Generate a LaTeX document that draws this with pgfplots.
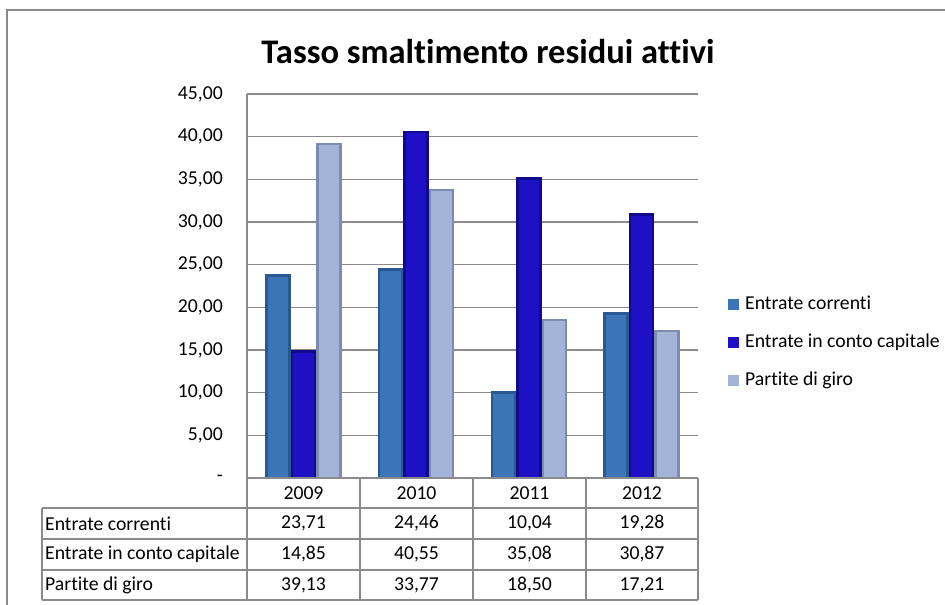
\documentclass[border=0pt]{standalone}
\usepackage{fontspec}
\setmainfont{Carlito}[Ligatures={NoCommon}]
\usepackage{pgfplots}
\pgfplotsset{compat=1.18}
\definecolor{aE}{HTML}{2A5890}
\definecolor{aM}{HTML}{3C75B7}
\definecolor{bE}{HTML}{120A8C}
\definecolor{bM}{HTML}{1E10C4}
\definecolor{cE}{HTML}{7C8CB0}
\definecolor{cM}{HTML}{A4B4D8}
\definecolor{gridc}{HTML}{8A8A8A}
\begin{document}
\begin{tikzpicture}[x=1pt,y=1pt]
\begin{axis}[
  scale only axis, width=451pt, height=384pt,
  xmin=-0.5, xmax=3.5, ymin=0, ymax=45,
  axis lines*=left,
  axis line style={gridc, line width=1.2pt, -},
  ymajorgrids, grid style={gridc, line width=1.2pt},
  xtick=\empty,
  ytick={0,5,...,45},
  yticklabels={-,{5,00},{10,00},{15,00},{20,00},{25,00},{30,00},{35,00},{40,00},{45,00}},
  major tick length=0pt,
  tick label style={font=\fontsize{19.7}{22}\selectfont},
  yticklabel style={inner sep=0pt, xshift=-24pt},
  ybar=0pt, bar width=23pt,
  legend image code/.code={\fill[#1, draw=none] (0pt,-5.5pt) rectangle (11pt,5.5pt);},
  legend style={draw=none, fill=none, at={(1,0.352)}, anchor=west, xshift=30pt,
    inner sep=0pt, row sep=21pt, column sep=6pt,
    font=\fontsize{19.7}{22}\selectfont,
    nodes={inner sep=0pt, text height=13pt, text depth=4pt, anchor=west}},
  legend cell align=left,
]
\addplot[draw=aE, line width=2.5pt, fill=aM, bar shift=-25.5pt] coordinates {(0,23.71) (1,24.46) (2,10.04) (3,19.28)};
\addlegendentry{Entrate correnti}
\addplot[draw=bE, line width=2.5pt, fill=bM, bar shift=0pt] coordinates {(0,14.85) (1,40.55) (2,35.08) (3,30.87)};
\addlegendentry{Entrate in conto capitale}
\addplot[draw=cE, line width=2.5pt, fill=cM, bar shift=25.5pt] coordinates {(0,39.13) (1,33.77) (2,18.50) (3,17.21)};
\addlegendentry{Partite di giro}
\coordinate (O) at (rel axis cs:0,0);
\end{axis}
\begin{scope}[shift={(O)}, xshift=-247pt, yshift=-127pt]
\draw[gridc, line width=1.2pt] (7,0) -- (7,595) -- (945,595);
\node[font=\bfseries\fontsize{34.5}{40}\selectfont, inner sep=0pt] at (488,553) {Tasso smaltimento residui attivi};
% data table
\begin{scope}[gridc, line width=1.2pt]
\draw (247,127) -- (698,127);
\draw (42,97) -- (698,97);
\draw (42,66) -- (698,66);
\draw (42,35) -- (698,35);
\draw (42,5) -- (698,5);
\draw (42,97) -- (42,5);
\foreach \x in {247,360,473,586,698} {\draw (\x,127) -- (\x,5);}
\end{scope}
\begin{scope}[every node/.style={font=\fontsize{19.7}{22}\selectfont, inner sep=0pt}]
\node[anchor=west] at (45,81.5) {Entrate correnti};
\node[anchor=west] at (45,50.5) {Entrate in conto capitale};
\node[anchor=west] at (45,20) {Partite di giro};
\node at (303.5,112) {2009};
\node at (416.5,112) {2010};
\node at (529.5,112) {2011};
\node at (642,112) {2012};
\node at (303.5,81.5) {23,71};
\node at (416.5,81.5) {24,46};
\node at (529.5,81.5) {10,04};
\node at (642,81.5) {19,28};
\node at (303.5,50.5) {14,85};
\node at (416.5,50.5) {40,55};
\node at (529.5,50.5) {35,08};
\node at (642,50.5) {30,87};
\node at (303.5,20) {39,13};
\node at (416.5,20) {33,77};
\node at (529.5,20) {18,50};
\node at (642,20) {17,21};
\end{scope}
\pgfresetboundingbox
\path[use as bounding box] (0,0) rectangle (945,605);
\end{scope}
\end{tikzpicture}
\end{document}
